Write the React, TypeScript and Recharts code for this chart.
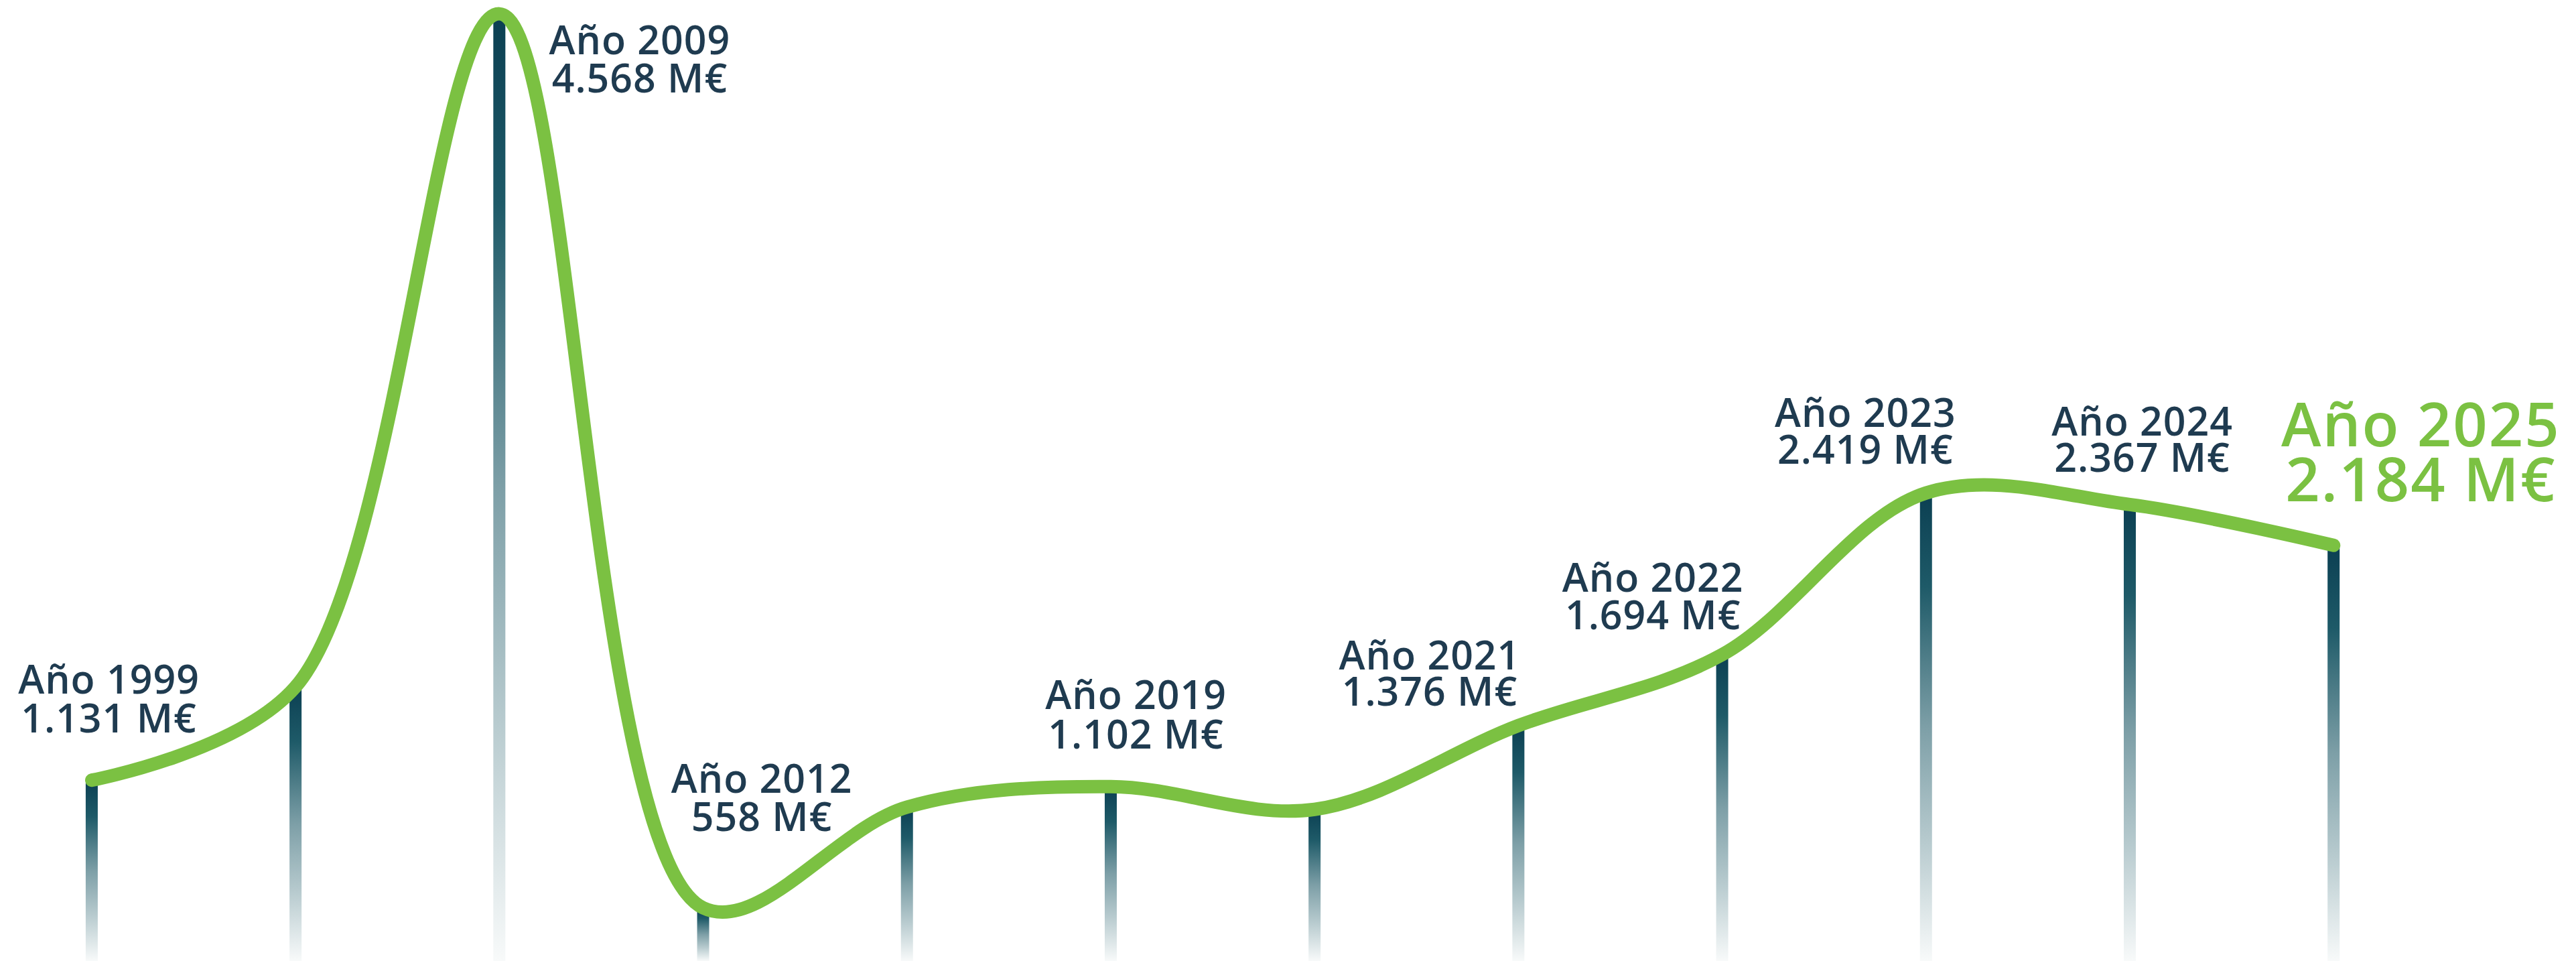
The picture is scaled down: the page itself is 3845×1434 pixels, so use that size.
import React from 'react';
import { ComposedChart, Bar, Line, XAxis, YAxis, LabelList } from 'recharts';

// ---- data ----
const YEARS = [1999, 2005, 2009, 2012, 2015, 2019, 2020, 2021, 2022, 2023, 2024, 2025];
const VALUES_M = [1131, 1550, 4568, 558, 1010, 1102, 1000, 1376, 1694, 2419, 2367, 2184];
const SHOW_LABEL = [true, false, true, true, false, true, false, true, true, true, true, true];

// ---- layout for annotations (dx/dy from the data point to the first baseline) ----
const LABEL_LAYOUT: Array<{ dx: number; dy: number; gap: number; size: number; ls: number; color: string } | null> = [
  { dx: 25, dy: -129, gap: 58, size: 59, ls: 1, color: '#1f3b50' },
  null,
  { dx: 209, dy: 60, gap: 57, size: 59, ls: 1, color: '#1f3b50' },
  { dx: 87, dy: -172, gap: 57, size: 59, ls: 1, color: '#1f3b50' },
  null,
  { dx: 37, dy: -116, gap: 59, size: 59, ls: 1, color: '#1f3b50' },
  null,
  { dx: -133, dy: -84, gap: 54, size: 59, ls: 1, color: '#1f3b50' },
  { dx: -104, dy: -94, gap: 56, size: 59, ls: 1, color: '#1f3b50' },
  { dx: -91, dy: -99, gap: 55, size: 59, ls: 1, color: '#1f3b50' },
  { dx: 18, dy: -103, gap: 54, size: 59, ls: 1, color: '#1f3b50' },
  { dx: 129, dy: -148, gap: 82, size: 90, ls: 2, color: '#7bc142' },
];

const data = YEARS.map((year, i) => ({ idx: i, year, value: VALUES_M[i] }));

const W = 3845;
const H = 1434;

function fmt(v: number): string {
  const s = String(Math.round(v));
  return s.replace(/\B(?=(\d{3})+(?!\d))/g, '.');
}

// ---- centripetal Catmull-Rom curve factory (alpha = 0.5) ----
const EPS = 1e-12;
function crBezier(that: any, x: number, y: number) {
  let x1 = that._x1, y1 = that._y1, x2 = that._x2, y2 = that._y2;
  if (that._l01_a > EPS) {
    const a = 2 * that._l01_2a + 3 * that._l01_a * that._l12_a + that._l12_2a;
    const n = 3 * that._l01_a * (that._l01_a + that._l12_a);
    x1 = (x1 * a - that._x0 * that._l12_2a + that._x2 * that._l01_2a) / n;
    y1 = (y1 * a - that._y0 * that._l12_2a + that._y2 * that._l01_2a) / n;
  }
  if (that._l23_a > EPS) {
    const b = 2 * that._l23_2a + 3 * that._l23_a * that._l12_a + that._l12_2a;
    const m = 3 * that._l23_a * (that._l23_a + that._l12_a);
    x2 = (x2 * b + that._x1 * that._l23_2a - x * that._l12_2a) / m;
    y2 = (y2 * b + that._y1 * that._l23_2a - y * that._l12_2a) / m;
  }
  that._context.bezierCurveTo(x1, y1, x2, y2, that._x2, that._y2);
}

class CatmullRomCurve {
  _context: any;
  _alpha: number;
  _line: number;
  _point: number;
  _x0: number; _x1: number; _x2: number;
  _y0: number; _y1: number; _y2: number;
  _l01_a: number; _l12_a: number; _l23_a: number;
  _l01_2a: number; _l12_2a: number; _l23_2a: number;
  constructor(context: any, alpha: number) {
    this._context = context;
    this._alpha = alpha;
    this._line = NaN;
    this._point = 0;
    this._x0 = this._x1 = this._x2 = NaN;
    this._y0 = this._y1 = this._y2 = NaN;
    this._l01_a = this._l12_a = this._l23_a = 0;
    this._l01_2a = this._l12_2a = this._l23_2a = 0;
  }
  areaStart() { this._line = 0; }
  areaEnd() { this._line = NaN; }
  lineStart() {
    this._x0 = this._x1 = this._x2 = NaN;
    this._y0 = this._y1 = this._y2 = NaN;
    this._l01_a = this._l12_a = this._l23_a = 0;
    this._l01_2a = this._l12_2a = this._l23_2a = 0;
    this._point = 0;
  }
  lineEnd() {
    switch (this._point) {
      case 2: this._context.lineTo(this._x2, this._y2); break;
      case 3: this.point(this._x2, this._y2); break;
    }
    if (this._line || (this._line !== 0 && this._point === 1)) this._context.closePath();
    this._line = 1 - this._line;
  }
  point(x: number, y: number) {
    x = +x; y = +y;
    if (this._point) {
      const x23 = this._x2 - x, y23 = this._y2 - y;
      this._l23_2a = Math.pow(x23 * x23 + y23 * y23, this._alpha);
      this._l23_a = Math.sqrt(this._l23_2a);
    }
    switch (this._point) {
      case 0:
        this._point = 1;
        if (this._line) this._context.lineTo(x, y); else this._context.moveTo(x, y);
        break;
      case 1: this._point = 2; break;
      case 2: this._point = 3; crBezier(this, x, y); break;
      default: crBezier(this, x, y); break;
    }
    this._l01_a = this._l12_a; this._l12_a = this._l23_a;
    this._l01_2a = this._l12_2a; this._l12_2a = this._l23_2a;
    this._x0 = this._x1; this._x1 = this._x2; this._x2 = x;
    this._y0 = this._y1; this._y1 = this._y2; this._y2 = y;
  }
}

const catmullRom = (context: any) => new CatmullRomCurve(context, 0.5);

const FONT = '"Open Sans", "DejaVu Sans", sans-serif';
const STEM_W = 18;

const renderStem = (props: any) => {
  const { x, y, width, height } = props;
  if (x == null || y == null || !height) return <g />;
  const cx = Number(x) + Number(width) / 2;
  return (
    <rect x={cx - STEM_W / 2} y={Number(y)} width={STEM_W} height={Number(height)} fill="url(#stemGrad)" />
  );
};

const renderLabel = (props: any) => {
  const { x, y, index } = props;
  if (index == null || !SHOW_LABEL[index]) return null;
  const lay = LABEL_LAYOUT[index];
  if (!lay) return null;
  const cx = Number(x) + lay.dx + lay.ls / 2;
  const by = Number(y) + lay.dy;
  return (
    <g key={`lbl-${index}`}>
      <text
        x={cx}
        y={by}
        textAnchor="middle"
        fill={lay.color}
        fontFamily={FONT}
        fontWeight={600}
        fontSize={lay.size}
        letterSpacing={lay.ls}
      >
        {`Año ${YEARS[index]}`}
      </text>
      <text
        x={cx}
        y={by + lay.gap}
        textAnchor="middle"
        fill={lay.color}
        fontFamily={FONT}
        fontWeight={600}
        fontSize={lay.size}
        letterSpacing={lay.ls}
      >
        {`${fmt(VALUES_M[index])} M€`}
      </text>
    </g>
  );
};

export default function App() {
  return (
    <div style={{ position: 'absolute', left: 0, top: 0, width: W, height: H, background: '#ffffff' }}>
      <ComposedChart width={W} height={H} data={data} margin={{ top: 0, right: 0, bottom: 0, left: 0 }}>
        <defs>
          <linearGradient id="stemGrad" x1="0" y1="0" x2="0" y2="1">
            <stop offset="0%" stopColor="#0b3f52" />
            <stop offset="20%" stopColor="#1e5a68" />
            <stop offset="50%" stopColor="#7d9fa7" />
            <stop offset="75%" stopColor="#b8cbcf" />
            <stop offset="100%" stopColor="#f8fafa" />
          </linearGradient>
        </defs>
        <XAxis type="number" dataKey="idx" domain={[-0.4504, 12.189]} allowDataOverflow hide />
        <YAxis type="number" domain={[320, 4630]} allowDataOverflow hide />
        <Bar dataKey="value" barSize={STEM_W} fill="url(#stemGrad)" shape={renderStem} isAnimationActive={false} />
        <Line
          dataKey="value"
          type={catmullRom as any}
          stroke="#7bc142"
          strokeWidth={20}
          strokeLinecap="round"
          strokeLinejoin="round"
          dot={false}
          activeDot={false}
          isAnimationActive={false}
        >
          <LabelList dataKey="value" content={renderLabel} />
        </Line>
      </ComposedChart>
    </div>
  );
}
